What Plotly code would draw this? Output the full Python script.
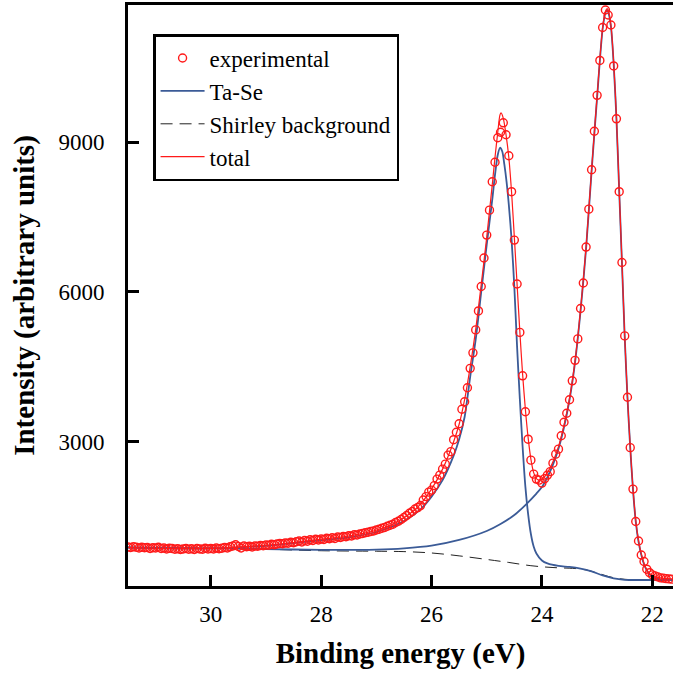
import plotly.graph_objects as go

# ---------------- data ----------------
energy_exp = [
    31.50, 31.45, 31.40, 31.35, 31.30, 31.25, 31.20, 31.15, 31.10, 31.05,
    31.00, 30.95, 30.90, 30.85, 30.80, 30.75, 30.70, 30.65, 30.60, 30.55,
    30.50, 30.45, 30.40, 30.35, 30.30, 30.25, 30.20, 30.15, 30.10, 30.05,
    30.00, 29.95, 29.90, 29.85, 29.80, 29.75, 29.70, 29.65, 29.60, 29.55,
    29.50, 29.45, 29.40, 29.35, 29.30, 29.25, 29.20, 29.15, 29.10, 29.05,
    29.00, 28.95, 28.90, 28.85, 28.80, 28.75, 28.70, 28.65, 28.60, 28.55,
    28.50, 28.45, 28.40, 28.35, 28.30, 28.25, 28.20, 28.15, 28.10, 28.05,
    28.00, 27.95, 27.90, 27.85, 27.80, 27.75, 27.70, 27.65, 27.60, 27.55,
    27.50, 27.45, 27.40, 27.35, 27.30, 27.25, 27.20, 27.15, 27.10, 27.05,
    27.00, 26.95, 26.90, 26.85, 26.80, 26.75, 26.70, 26.65, 26.60, 26.55,
    26.50, 26.45, 26.40, 26.35, 26.30, 26.25, 26.20, 26.15, 26.10, 26.05,
    26.00, 25.95, 25.90, 25.85, 25.80, 25.75, 25.70, 25.65, 25.60, 25.55,
    25.50, 25.45, 25.40, 25.35, 25.30, 25.25, 25.20, 25.15, 25.10, 25.05,
    25.00, 24.95, 24.90, 24.85, 24.80, 24.75, 24.70, 24.65, 24.60, 24.55,
    24.50, 24.45, 24.40, 24.35, 24.30, 24.25, 24.20, 24.15, 24.10, 24.05,
    24.00, 23.95, 23.90, 23.85, 23.80, 23.75, 23.70, 23.65, 23.60, 23.55,
    23.50, 23.45, 23.40, 23.35, 23.30, 23.25, 23.20, 23.15, 23.10, 23.05,
    23.00, 22.95, 22.90, 22.85, 22.80, 22.75, 22.70, 22.65, 22.60, 22.55,
    22.50, 22.45, 22.40, 22.35, 22.30, 22.25, 22.20, 22.15, 22.10, 22.05,
    22.00, 21.95, 21.90, 21.85, 21.80, 21.75, 21.70, 21.65,
]
intensity_exp = [
    890, 880, 895, 885, 870, 885, 875, 880, 860, 875,
    870, 885, 860, 870, 850, 865, 860, 845, 855, 840,
    850, 860, 845, 855, 840, 860, 850, 845, 865, 850,
    860, 850, 870, 855, 865, 880, 870, 895, 910, 935,
    900, 870, 910, 895, 905, 890, 910, 905, 920, 915,
    930, 925, 945, 935, 950, 960, 955, 970, 965, 985,
    975, 995, 1010, 990, 1020, 1005, 1035, 1020, 1045, 1030,
    1050, 1040, 1065, 1055, 1075, 1060, 1090, 1080, 1100, 1095,
    1115, 1110, 1135, 1130, 1150, 1160, 1175, 1185, 1200, 1210,
    1230, 1245, 1265, 1280, 1305, 1325, 1345, 1380, 1405, 1440,
    1480, 1520, 1565, 1600, 1650, 1680, 1720, 1830, 1900, 1990,
    2030, 2120, 2250, 2330, 2450, 2550, 2730, 2800, 3040, 3190,
    3360, 3650, 3800, 4080, 4470, 4780, 5240, 5620, 6110, 6680,
    7140, 7640, 8210, 8600, 9090, 9200, 9390, 9150, 8730, 8010,
    7040, 6160, 5190, 4320, 3600, 3050, 2630, 2350, 2250, 2230,
    2170, 2260, 2330, 2400, 2570, 2750, 2850, 3120, 3390, 3570,
    3840, 4220, 4630, 5060, 5670, 6180, 6900, 7660, 8450, 9220,
    9940, 10640, 11300, 11650, 11550, 11350, 10530, 9470, 8010, 6590,
    5120, 3890, 2880, 2050, 1400, 1010, 730, 600, 445, 375,
    330, 310, 290, 270, 265, 255, 250, 245,
]

# Shirley background
energy_bg = [31.5, 30.0, 29.0, 28.0, 27.0, 26.5, 26.0, 25.5, 25.0, 24.6,
             24.2, 23.8, 23.4, 23.2, 23.0, 22.8, 22.6, 22.4, 22.2, 22.0, 21.6]
intensity_bg = [880, 865, 845, 815, 805, 797, 770, 712, 640, 580,
                515, 478, 458, 430, 370, 300, 255, 235, 228, 228, 228]

# Ta-Se component 1 (peak near 24.75 eV)
energy_c1 = [31.5, 30.0, 29.0, 28.5, 28.0, 27.5, 27.0, 26.5, 26.2, 26.0,
             25.8, 25.6, 25.5, 25.4, 25.3, 25.2, 25.1, 25.0, 24.95, 24.9,
             24.85, 24.8, 24.76, 24.72, 24.68, 24.64, 24.6, 24.55, 24.5, 24.45,
             24.4, 24.35, 24.3, 24.25, 24.2, 24.15, 24.1, 24.0, 23.9, 23.7,
             23.5, 23.3, 23.1, 22.9, 22.7, 22.5, 22.2, 21.6]
intensity_c1 = [880, 860, 915, 970, 1025, 1083, 1190, 1410, 1645, 1900,
                2230, 2720, 3050, 3500, 4300, 5050, 6000, 6950, 7400, 7850,
                8350, 8750, 8890, 8820, 8550, 8200, 7750, 7050, 6100, 4900,
                3850, 2900, 2100, 1550, 1150, 900, 760, 620, 560, 510,
                490, 455, 400, 320, 260, 232, 228, 228]

# Ta-Se component 2 (peak near 22.82 eV)
energy_c2 = [31.5, 30.0, 29.0, 28.0, 27.0, 26.5, 26.0, 25.5, 25.0, 24.75,
             24.5, 24.3, 24.1, 24.0, 23.9, 23.8, 23.7, 23.6, 23.5, 23.4,
             23.3, 23.2, 23.1, 23.0, 22.9, 22.85, 22.82, 22.8, 22.75, 22.7,
             22.65, 22.6, 22.55, 22.5, 22.45, 22.4, 22.35, 22.3, 22.25, 22.2,
             22.15, 22.1, 22.05, 22.0, 21.9, 21.8, 21.6]
intensity_c2 = [880, 862, 848, 832, 838, 862, 915, 1030, 1210, 1350,
                1530, 1730, 1960, 2090, 2290, 2540, 2860, 3290, 3840, 4590,
                5620, 6870, 8420, 9900, 11270, 11590, 11650, 11620, 11320, 10570,
                9470, 8030, 6580, 5100, 3880, 2880, 2040, 1400, 1000, 735,
                545, 420, 340, 290, 250, 235, 230]

# total fit
energy_tot = [31.5, 30.5, 30.0, 29.5, 29.0, 28.5, 28.0, 27.5, 27.0, 26.75,
              26.5, 26.25, 26.0, 25.8, 25.6, 25.5, 25.4, 25.3, 25.2, 25.1,
              25.0, 24.95, 24.9, 24.85, 24.8, 24.76, 24.74, 24.7, 24.65, 24.6,
              24.55, 24.5, 24.45, 24.4, 24.35, 24.3, 24.25, 24.2, 24.15, 24.1,
              24.05, 24.0, 23.95, 23.9, 23.85, 23.8, 23.7, 23.6, 23.5, 23.4,
              23.3, 23.2, 23.1, 23.0, 22.9, 22.85, 22.82, 22.8, 22.75, 22.7,
              22.65, 22.6, 22.55, 22.5, 22.45, 22.4, 22.35, 22.3, 22.25, 22.2,
              22.15, 22.1, 22.05, 22.0, 21.9, 21.8, 21.6]
intensity_tot = [880, 855, 860, 890, 925, 980, 1045, 1110, 1225, 1320,
                 1475, 1690, 2050, 2450, 3000, 3350, 3850, 4500, 5250, 6150,
                 7100, 7620, 8150, 8700, 9200, 9550, 9590, 9480, 9150, 8700,
                 8000, 7100, 6150, 5200, 4350, 3650, 3080, 2650, 2380, 2260,
                 2230, 2250, 2300, 2380, 2480, 2600, 2900, 3330, 3870, 4620,
                 5650, 6900, 8450, 9930, 11300, 11620, 11680, 11650, 11350, 10600,
                 9500, 8050, 6600, 5120, 3900, 2900, 2060, 1420, 1020, 750,
                 560, 430, 360, 320, 280, 260, 250]

x_ticks = [30, 28, 26, 24, 22]
y_ticks = [3000, 6000, 9000]

# ---------------- styles ----------------
FONT = "Liberation Serif"
RED = "#ff1a1a"
BLUE = "#3b5b97"

fig = go.Figure()

fig.add_trace(go.Scatter(
    x=energy_bg, y=intensity_bg, mode="lines", name="Shirley background",
    line=dict(color="#222222", width=1, dash="12px,7px", shape="spline"),
    legendrank=3,
))
fig.add_trace(go.Scatter(
    x=energy_c1, y=intensity_c1, mode="lines", name="Ta-Se",
    line=dict(color=BLUE, width=1.8, shape="spline", smoothing=0.8),
    legendrank=2, legendgroup="tase",
))
fig.add_trace(go.Scatter(
    x=energy_c2, y=intensity_c2, mode="lines", name="Ta-Se",
    line=dict(color=BLUE, width=1.8, shape="spline", smoothing=0.8),
    showlegend=False, legendgroup="tase",
))
fig.add_trace(go.Scatter(
    x=energy_tot, y=intensity_tot, mode="lines", name="total",
    line=dict(color=RED, width=1.2, shape="spline", smoothing=0.8),
    legendrank=4,
))
fig.add_trace(go.Scatter(
    x=energy_exp, y=intensity_exp, mode="markers", name="experimental",
    marker=dict(symbol="circle-open", color=RED, size=8, line=dict(width=1.4)),
    legendrank=1,
))

axis_common = dict(
    showgrid=False, zeroline=False, showline=True, linecolor="black",
    linewidth=3, ticks="inside", ticklen=11, tickwidth=2.5, tickcolor="black",
    tickfont=dict(family=FONT, size=23, color="black"),
)

fig.update_layout(
    width=673, height=677,
    margin=dict(l=128, r=0, t=5, b=91),
    paper_bgcolor="white", plot_bgcolor="white",
    font=dict(family=FONT, color="black"),
    xaxis=dict(
        **axis_common,
        range=[31.5, 21.625], tickvals=x_ticks,
        ticktext=[str(v) for v in x_ticks],
        mirror=True, ticklabelstandoff=5,
        title=dict(text="Binding energy (eV)",
                   font=dict(family=FONT, size=29, color="black", weight="bold"),
                   standoff=18),
    ),
    yaxis=dict(
        **axis_common,
        range=[108, 11751], tickvals=y_ticks,
        ticktext=[str(v) for v in y_ticks],
        ticklabelstandoff=16,
        title=dict(text="Intensity (arbitrary units)",
                   font=dict(family=FONT, size=29, color="black", weight="bold"),
                   standoff=16),
    ),
    legend=dict(
        x=0.046, y=0.95, xanchor="left", yanchor="top",
        bgcolor="white", bordercolor="black", borderwidth=2.5,
        font=dict(family=FONT, size=23, color="black"),
        tracegroupgap=0, itemwidth=44,
    ),
    showlegend=True,
)

fig.write_html(
    "out.html",
    config={"displayModeBar": False},
    post_script="document.body.style.margin='0';document.body.style.overflow='hidden';",
)
